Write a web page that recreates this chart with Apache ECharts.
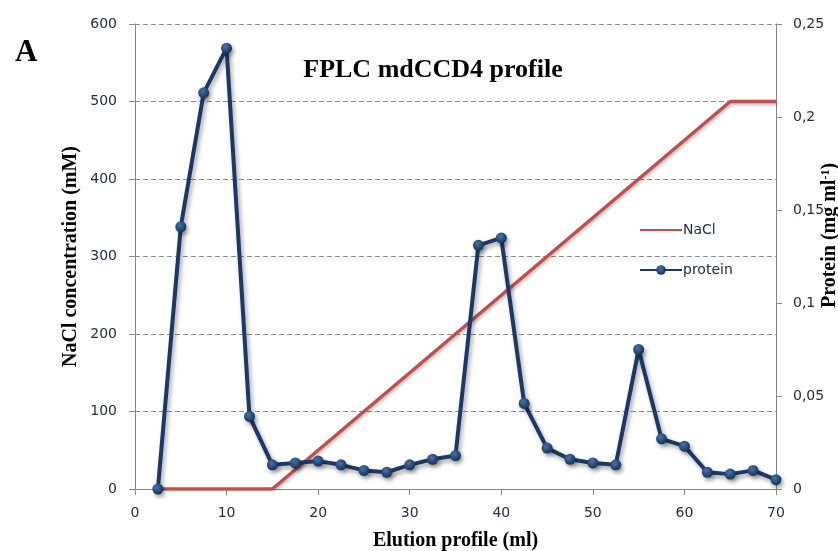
<!DOCTYPE html>
<html>
<head>
<meta charset="utf-8">
<title>FPLC mdCCD4 profile</title>
<script src="https://cdn.jsdelivr.net/npm/echarts@6/dist/echarts.min.js"></script>
<style>
  html, body { margin: 0; padding: 0; background: #ffffff; }
  #chart { width: 838px; height: 551px; }
</style>
</head>
<body>
<div id="chart"></div>
<script>
// Elution volumes (ml) of the collected fractions
const elutionMl = [2.5, 5, 7.5, 10, 12.5, 15, 17.5, 20, 22.5, 25, 27.5, 30, 32.5, 35,
                   37.5, 40, 42.5, 45, 47.5, 50, 52.5, 55, 57.5, 60, 62.5, 65, 67.5, 70];
// Protein content of each fraction (mg/ml)
const proteinMgMl = [0, 0.141, 0.213, 0.237, 0.039, 0.013, 0.014, 0.015, 0.013, 0.010,
                     0.009, 0.013, 0.016, 0.018, 0.131, 0.135, 0.046, 0.022, 0.016, 0.014,
                     0.013, 0.075, 0.027, 0.023, 0.009, 0.008, 0.010, 0.005];
// NaCl gradient breakpoints
const naclMl = [2.5, 15, 65, 70];
const naclMM = [0, 0, 500, 500];

// Axis ticks
const xTicks = [0, 10, 20, 30, 40, 50, 60, 70];
const naclTicks = [0, 100, 200, 300, 400, 500, 600];
const proteinTicks = [0, 0.05, 0.1, 0.15, 0.2, 0.25];

const zip = (xs, ys) => xs.map((x, i) => [x, ys[i]]);

const serif = '"Liberation Serif", "Times New Roman", serif';
const sans = '"DejaVu Sans", Verdana, sans-serif';
const axisGray = '#8a8a8a';
const labelColor = '#2b2b3f';

const chart = echarts.init(document.getElementById('chart'), null, { renderer: 'canvas' });

chart.setOption({
  animation: false,
  backgroundColor: '#ffffff',
  title: [
    {
      text: 'FPLC mdCCD4 profile',
      left: 428, top: 52, textAlign: 'center',
      textStyle: { fontFamily: serif, fontWeight: 'bold', fontSize: 26, color: '#000' }
    },
    {
      text: 'A',
      left: 10, top: 32,
      textStyle: { fontFamily: serif, fontWeight: 'bold', fontSize: 31, color: '#000' }
    }
  ],
  legend: {
    orient: 'vertical',
    left: 634, top: 218,
    itemWidth: 42, itemHeight: 12, itemGap: 26,
    textStyle: { fontFamily: sans, fontSize: 14, color: labelColor, padding: [0, 0, 0, -4] },
    data: [
      { name: 'NaCl', itemStyle: { opacity: 0 } },
      { name: 'protein' }
    ]
  },
  grid: { left: 135, right: 62, top: 24, bottom: 62, containLabel: false, outerBoundsMode: 'none' },
  xAxis: {
    type: 'value',
    min: xTicks[0], max: xTicks[xTicks.length - 1], interval: 10,
    name: 'Elution profile (ml)', nameLocation: 'middle', nameGap: 42, nameMoveOverlap: false,
    nameTextStyle: { fontFamily: serif, fontWeight: 'bold', fontSize: 20, color: '#000' },
    axisLine: { lineStyle: { color: axisGray, width: 1 } },
    axisTick: { show: true, length: 6, lineStyle: { color: axisGray } },
    axisLabel: { fontFamily: sans, fontSize: 14, color: labelColor, margin: 17 },
    splitLine: { show: false }
  },
  yAxis: [
    {
      type: 'value', position: 'left',
      min: naclTicks[0], max: naclTicks[naclTicks.length - 1], interval: 100,
      name: 'NaCl concentration (mM)', nameLocation: 'middle', nameGap: 54, nameRotate: 90,
      nameMoveOverlap: false,
      nameTextStyle: { fontFamily: serif, fontWeight: 'bold', fontSize: 20, color: '#000' },
      axisLine: { show: true, lineStyle: { color: axisGray, width: 1 } },
      axisTick: { show: true, length: 6, lineStyle: { color: axisGray } },
      axisLabel: { fontFamily: sans, fontSize: 14, color: labelColor, margin: 18 },
      splitLine: { show: true, lineStyle: { color: '#8c8c8c', type: [5, 3], width: 1 } }
    },
    {
      type: 'value', position: 'right',
      min: proteinTicks[0], max: proteinTicks[proteinTicks.length - 1], interval: 0.05,
      name: 'Protein (mg ml{sup|-1})', nameLocation: 'middle', nameGap: 44, nameRotate: 90,
      nameMoveOverlap: false,
      nameTextStyle: {
        fontFamily: serif, fontWeight: 'bold', fontSize: 20, color: '#000',
        padding: [0, 0, 0, 42],
        rich: { sup: { fontFamily: serif, fontWeight: 'bold', fontSize: 12, color: '#000', verticalAlign: 'top', padding: [0, 0, 7, 0] } }
      },
      axisLine: { show: true, lineStyle: { color: axisGray, width: 1 } },
      axisTick: { show: true, length: 6, lineStyle: { color: axisGray } },
      axisLabel: {
        fontFamily: sans, fontSize: 14, color: labelColor, margin: 17,
        formatter: v => String(+v.toFixed(2)).replace('.', ',')
      },
      splitLine: { show: false }
    }
  ],
  series: [
    {
      name: 'NaCl', type: 'line', yAxisIndex: 0,
      data: zip(naclMl, naclMM),
      showSymbol: false, symbol: 'none',
      lineStyle: {
        color: '#c0504d', width: 3.5,
        shadowColor: 'rgba(0,0,0,0.25)', shadowBlur: 3, shadowOffsetX: 1, shadowOffsetY: 2
      },
      itemStyle: { color: '#c0504d' },
      z: 2
    },
    {
      name: 'protein', type: 'line', yAxisIndex: 1,
      data: zip(elutionMl, proteinMgMl),
      symbol: 'circle', symbolSize: 11, showSymbol: true,
      lineStyle: {
        color: '#1c3966', width: 4,
        shadowColor: 'rgba(0,0,0,0.35)', shadowBlur: 4, shadowOffsetX: 2, shadowOffsetY: 3
      },
      itemStyle: {
        color: {
          type: 'radial', x: 0.4, y: 0.35, r: 0.65,
          colorStops: [
            { offset: 0, color: '#4a72a8' },
            { offset: 1, color: '#173258' }
          ]
        },
        borderWidth: 0,
        shadowColor: 'rgba(0,0,0,0.35)', shadowBlur: 4, shadowOffsetX: 2, shadowOffsetY: 3
      },
      z: 3
    }
  ]
});
</script>
</body>
</html>
